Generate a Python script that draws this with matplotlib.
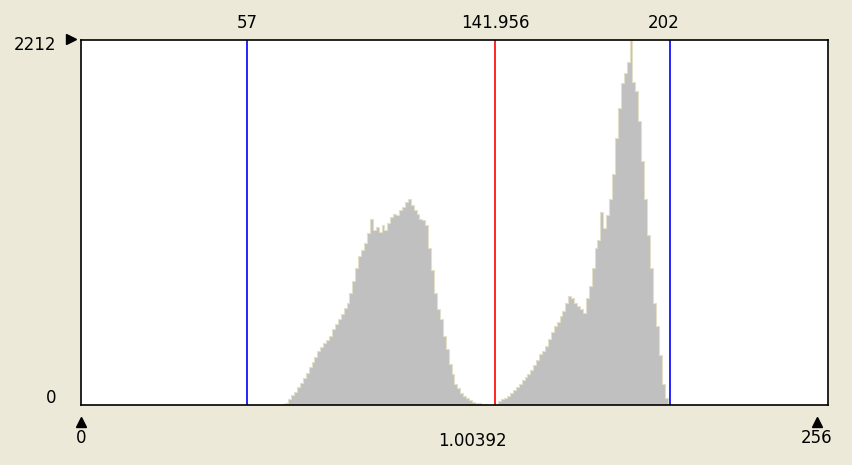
import numpy as np
import matplotlib
matplotlib.use("Agg")
import matplotlib.pyplot as plt

W, H = 853, 465

# histogram counts, first bin index and counts per grey level
first_bin = 69
counts = [
    5, 15, 35, 60, 80, 110, 135, 165, 195, 230,            # 69-78
    260, 290, 325, 350, 375, 395, 420, 460, 490, 520,      # 79-88
    550, 590, 620, 680, 750, 830, 900, 940, 980, 1040,     # 89-98
    1130, 1060, 1080, 1050, 1090, 1060, 1100, 1140, 1160, 1150,  # 99-108
    1180, 1200, 1230, 1250, 1210, 1180, 1160, 1130, 1120, 1090,  # 109-118
    950, 820, 680, 580, 520, 420, 340, 250, 190, 130,      # 119-128
    100, 75, 55, 42, 30, 20, 15, 10, 8, 5,                 # 129-138
    3, 2, 1, 5, 25, 35, 40, 55, 70, 90,                    # 139-148
    110, 130, 150, 170, 190, 215, 240, 270, 310, 330,      # 149-158
    360, 400, 440, 480, 500, 540, 570, 620, 660, 650,      # 159-168
    620, 600, 580, 560, 650, 720, 830, 950, 1000, 1170,    # 169-178
    1070, 1150, 1250, 1400, 1620, 1800, 1950, 2010, 2080, 2212,  # 179-188
    1960, 1900, 1720, 1480, 1250, 1030, 830, 620, 480, 300,      # 189-198
    130, 40, 8,                                            # 199-201
]
x_min, x_max = 0, 256
y_max = 2212
low_cut, high_cut = 57, 202
mean_value = 141.956
bin_width_label = "1.00392"

bg = "#ECE9D8"

fig = plt.figure(figsize=(W / 100, H / 100), dpi=100, facecolor=bg)
ax = fig.add_axes([81 / W, 1 - 405 / H, (828 - 81) / W, (405 - 40) / H])
ax.set_facecolor("white")

bins = np.arange(first_bin, first_bin + len(counts))
ax.bar(bins, counts, width=1.0, align="edge", color="#C0C0C0", linewidth=0)
ax.step(np.append(bins, bins[-1] + 1), np.append(counts, 0), where="post",
        color="#E4E0C8", linewidth=0.8)

ax.axvline(low_cut, color="#0000FF", linewidth=1.2)
ax.axvline(high_cut, color="#0000FF", linewidth=1.2)
ax.axvline(mean_value, color="#FF0000", linewidth=1.2)

ax.set_xlim(x_min, x_max)
ax.set_ylim(0, y_max)
ax.set_xticks([])
ax.set_yticks([])
for s in ax.spines.values():
    s.set_color("black")
    s.set_linewidth(1.2)


def fx(px):
    return px / W


def fy(py):
    return 1 - py / H


font = dict(family="DejaVu Sans", fontsize=12, color="black")

# labels above the plot at the marker lines
top = ax.get_xaxis_transform()
for val, txt in [(low_cut, "57"), (mean_value, "141.956"), (high_cut - 2.5, "202")]:
    ax.text(val, 1.0 + 17 / 365, txt, transform=top, ha="center", va="center", **font)

# y range labels and marker
fig.text(fx(56), fy(45), str(y_max), ha="right", va="center", **font)
fig.text(fx(56), fy(398), "0", ha="right", va="center", **font)
ax.plot([fx(71)], [fy(39)], marker=">", color="black", markersize=7,
        transform=fig.transFigure, clip_on=False)

# x range markers and labels
for px, txt in [(81, str(x_min)), (817, str(x_max))]:
    ax.plot([fx(px)], [fy(422)], marker="^", color="black", markersize=7,
            transform=fig.transFigure, clip_on=False)
    fig.text(fx(px), fy(438), txt, ha="center", va="center", **font)
fig.text(fx(472), fy(441), bin_width_label, ha="center", va="center", **font)

fig.savefig("out.png", dpi=100, facecolor=bg)
